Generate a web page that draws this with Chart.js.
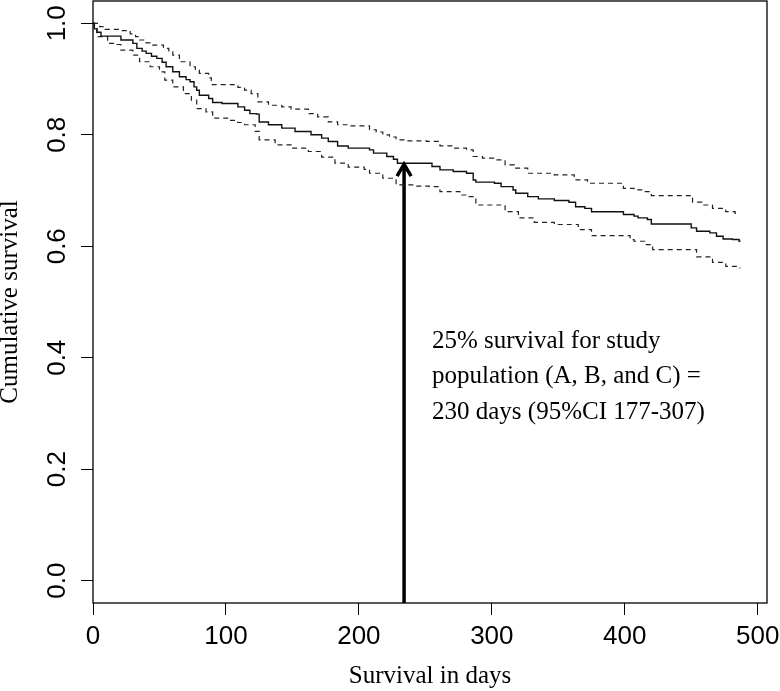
<!DOCTYPE html>
<html>
<head>
<meta charset="utf-8">
<script src="https://cdn.jsdelivr.net/npm/chart.js@4"></script>
<style>
  body { margin: 0; background: #fff; }
</style>
</head>
<body>
<canvas id="km" width="780" height="691"></canvas>
<script>
// Courbe de survie (Kaplan-Meier) : jour de chaque marche et valeur atteinte
const survTime = [0, 1, 3, 6, 21, 30, 33, 37, 40, 44, 48, 52, 55, 60, 65, 70, 73, 76, 78, 80, 87, 90, 97, 109, 114, 118, 123, 125, 132, 142, 152, 164, 172, 177, 184, 192, 208, 211, 221, 226, 229, 255, 261, 271, 281, 286, 288, 302, 307, 316, 318, 327, 335, 347, 358, 363, 370, 375, 399, 407, 410, 417, 420, 450, 454, 464, 469, 474, 481, 486, 487];
const survValue = [1.0, 0.99, 0.984, 0.977, 0.970, 0.964, 0.955, 0.950, 0.946, 0.941, 0.937, 0.930, 0.922, 0.913, 0.904, 0.899, 0.895, 0.886, 0.880, 0.871, 0.865, 0.858, 0.856, 0.850, 0.844, 0.838, 0.837, 0.823, 0.818, 0.812, 0.806, 0.800, 0.794, 0.788, 0.780, 0.776, 0.773, 0.767, 0.761, 0.756, 0.749, 0.743, 0.737, 0.734, 0.731, 0.719, 0.715, 0.713, 0.707, 0.701, 0.695, 0.689, 0.685, 0.682, 0.679, 0.671, 0.668, 0.662, 0.657, 0.654, 0.651, 0.648, 0.640, 0.633, 0.627, 0.624, 0.618, 0.613, 0.612, 0.609, 0.609];

// Borne haute de l'IC 95%
const upperTime = [0, 5, 9, 20, 28, 32, 35, 40, 45, 53, 57, 60, 65, 73, 77, 80, 87, 89, 109, 114, 119, 124, 132, 142, 149, 162, 169, 177, 184, 194, 208, 213, 218, 223, 228, 236, 251, 261, 271, 281, 286, 293, 302, 310, 317, 327, 347, 362, 372, 399, 407, 414, 420, 451, 458, 466, 476, 483, 486];
const upperValue = [1.0, 0.994, 0.989, 0.987, 0.981, 0.976, 0.970, 0.965, 0.961, 0.955, 0.949, 0.943, 0.931, 0.922, 0.916, 0.910, 0.902, 0.890, 0.885, 0.880, 0.874, 0.859, 0.853, 0.850, 0.846, 0.838, 0.832, 0.823, 0.818, 0.816, 0.809, 0.805, 0.800, 0.796, 0.791, 0.789, 0.788, 0.780, 0.776, 0.773, 0.761, 0.758, 0.755, 0.746, 0.740, 0.731, 0.728, 0.719, 0.713, 0.704, 0.701, 0.698, 0.691, 0.679, 0.674, 0.668, 0.662, 0.659, 0.659];

// Borne basse de l'IC 95%
const lowerTime = [0, 1, 3, 11, 18, 21, 30, 35, 43, 50, 54, 60, 68, 74, 78, 85, 90, 103, 109, 114, 122, 125, 137, 149, 162, 172, 182, 192, 204, 208, 218, 228, 241, 253, 261, 276, 281, 288, 310, 320, 332, 347, 365, 375, 404, 407, 415, 421, 454, 466, 476, 484, 487];
const lowerValue = [1.0, 0.991, 0.976, 0.964, 0.962, 0.952, 0.943, 0.931, 0.922, 0.913, 0.898, 0.886, 0.874, 0.862, 0.847, 0.841, 0.830, 0.826, 0.822, 0.818, 0.806, 0.791, 0.782, 0.776, 0.770, 0.760, 0.749, 0.742, 0.738, 0.731, 0.722, 0.710, 0.708, 0.707, 0.698, 0.692, 0.689, 0.674, 0.662, 0.651, 0.643, 0.639, 0.630, 0.619, 0.612, 0.609, 0.603, 0.594, 0.581, 0.571, 0.564, 0.561, 0.561];

// Graduations des axes
const xTicks = [0, 100, 200, 300, 400, 500];
const yTicks = [0, 0.2, 0.4, 0.6, 0.8, 1.0];

// Flèche et annotation
const arrowTime = 234;
const arrowValue = 0.749;
const noteLines = ["25% survival for study", "population (A, B, and C) =", "230 days (95%CI 177-307)"];
const noteTime = 255;
const noteValue = 0.4175;

const toPoints = (xs, ys) => xs.map((t, i) => ({ x: t, y: ys[i] }));

const tickFont = { family: '"Liberation Sans", Arial, sans-serif', size: 26 };
const titleFont = { family: '"Liberation Serif", "Times New Roman", serif', size: 25 };

// Cadre, pointe de flèche et texte
const decor = {
  id: "decor",
  afterDatasetsDraw(chart) {
    const { ctx, chartArea: a, scales } = chart;
    const x = scales.x, y = scales.y;
    ctx.save();
    ctx.strokeStyle = "#000";
    ctx.lineWidth = 1.3;
    ctx.strokeRect(a.left, a.top, a.right - a.left, a.bottom - a.top);

    const tx = x.getPixelForValue(arrowTime);
    const ty = y.getPixelForValue(arrowValue);
    ctx.lineWidth = 3.5;
    ctx.lineJoin = "miter";
    ctx.beginPath();
    ctx.moveTo(tx - 7, ty + 13);
    ctx.lineTo(tx, ty + 1);
    ctx.lineTo(tx + 7, ty + 13);
    ctx.stroke();

    ctx.fillStyle = "#000";
    ctx.font = '25px "Liberation Serif", "Times New Roman", serif';
    ctx.textBaseline = "alphabetic";
    ctx.textAlign = "left";
    const nx = x.getPixelForValue(noteTime);
    const ny = y.getPixelForValue(noteValue);
    noteLines.forEach((l, i) => ctx.fillText(l, nx, ny + i * 35.5));
    ctx.restore();
  }
};

new Chart(document.getElementById("km"), {
  type: "line",
  data: {
    datasets: [
      {
        data: toPoints(survTime, survValue),
        borderColor: "#111",
        borderWidth: 1.4,
        stepped: "before",
        pointRadius: 0
      },
      {
        data: toPoints(upperTime, upperValue),
        borderColor: "#222",
        borderWidth: 1.2,
        borderDash: [5, 4],
        stepped: "before",
        pointRadius: 0
      },
      {
        data: toPoints(lowerTime, lowerValue),
        borderColor: "#222",
        borderWidth: 1.2,
        borderDash: [5, 4],
        stepped: "before",
        pointRadius: 0
      },
      {
        // tige de la flèche
        data: [{ x: arrowTime, y: -0.04 }, { x: arrowTime, y: arrowValue - 0.004 }],
        borderColor: "#000",
        borderWidth: 3.5,
        pointRadius: 0
      }
    ]
  },
  options: {
    responsive: false,
    devicePixelRatio: 1,
    animation: false,
    layout: { padding: { left: 0, top: 1, right: 13, bottom: 0 } },
    plugins: { legend: { display: false }, tooltip: { enabled: false } },
    scales: {
      x: {
        type: "linear",
        min: 0,
        max: 507,
        afterBuildTicks: (s) => { s.ticks = xTicks.map((v) => ({ value: v })); },
        afterFit: (s) => { s.height = 88; s.paddingLeft = 0; s.paddingRight = 0; },
        ticks: { font: tickFont, color: "#000", padding: 6, maxRotation: 0, callback: (v) => String(v) },
        grid: { drawOnChartArea: false, drawTicks: true, tickLength: 12, color: "#000", lineWidth: 1 },
        border: { display: false },
        title: { display: true, text: "Survival in days", font: { ...titleFont, lineHeight: 1.15 }, color: "#000", padding: 0 }
      },
      y: {
        type: "linear",
        min: -0.04,
        max: 1.04,
        afterBuildTicks: (s) => { s.ticks = yTicks.map((v) => ({ value: v })); },
        afterFit: (s) => { s.width = 93; s.paddingTop = 0; s.paddingBottom = 0; },
        ticks: { font: tickFont, color: "#000", padding: 5, minRotation: 90, maxRotation: 90, crossAlign: "center", callback: (v) => v.toFixed(1) },
        grid: { drawOnChartArea: false, drawTicks: true, tickLength: 12, color: "#000", lineWidth: 1 },
        border: { display: false },
        title: { display: true, text: "Cumulative survival", font: { ...titleFont, lineHeight: 0.8 }, color: "#000", padding: 0 }
      }
    }
  },
  plugins: [decor]
});
</script>
</body>
</html>
